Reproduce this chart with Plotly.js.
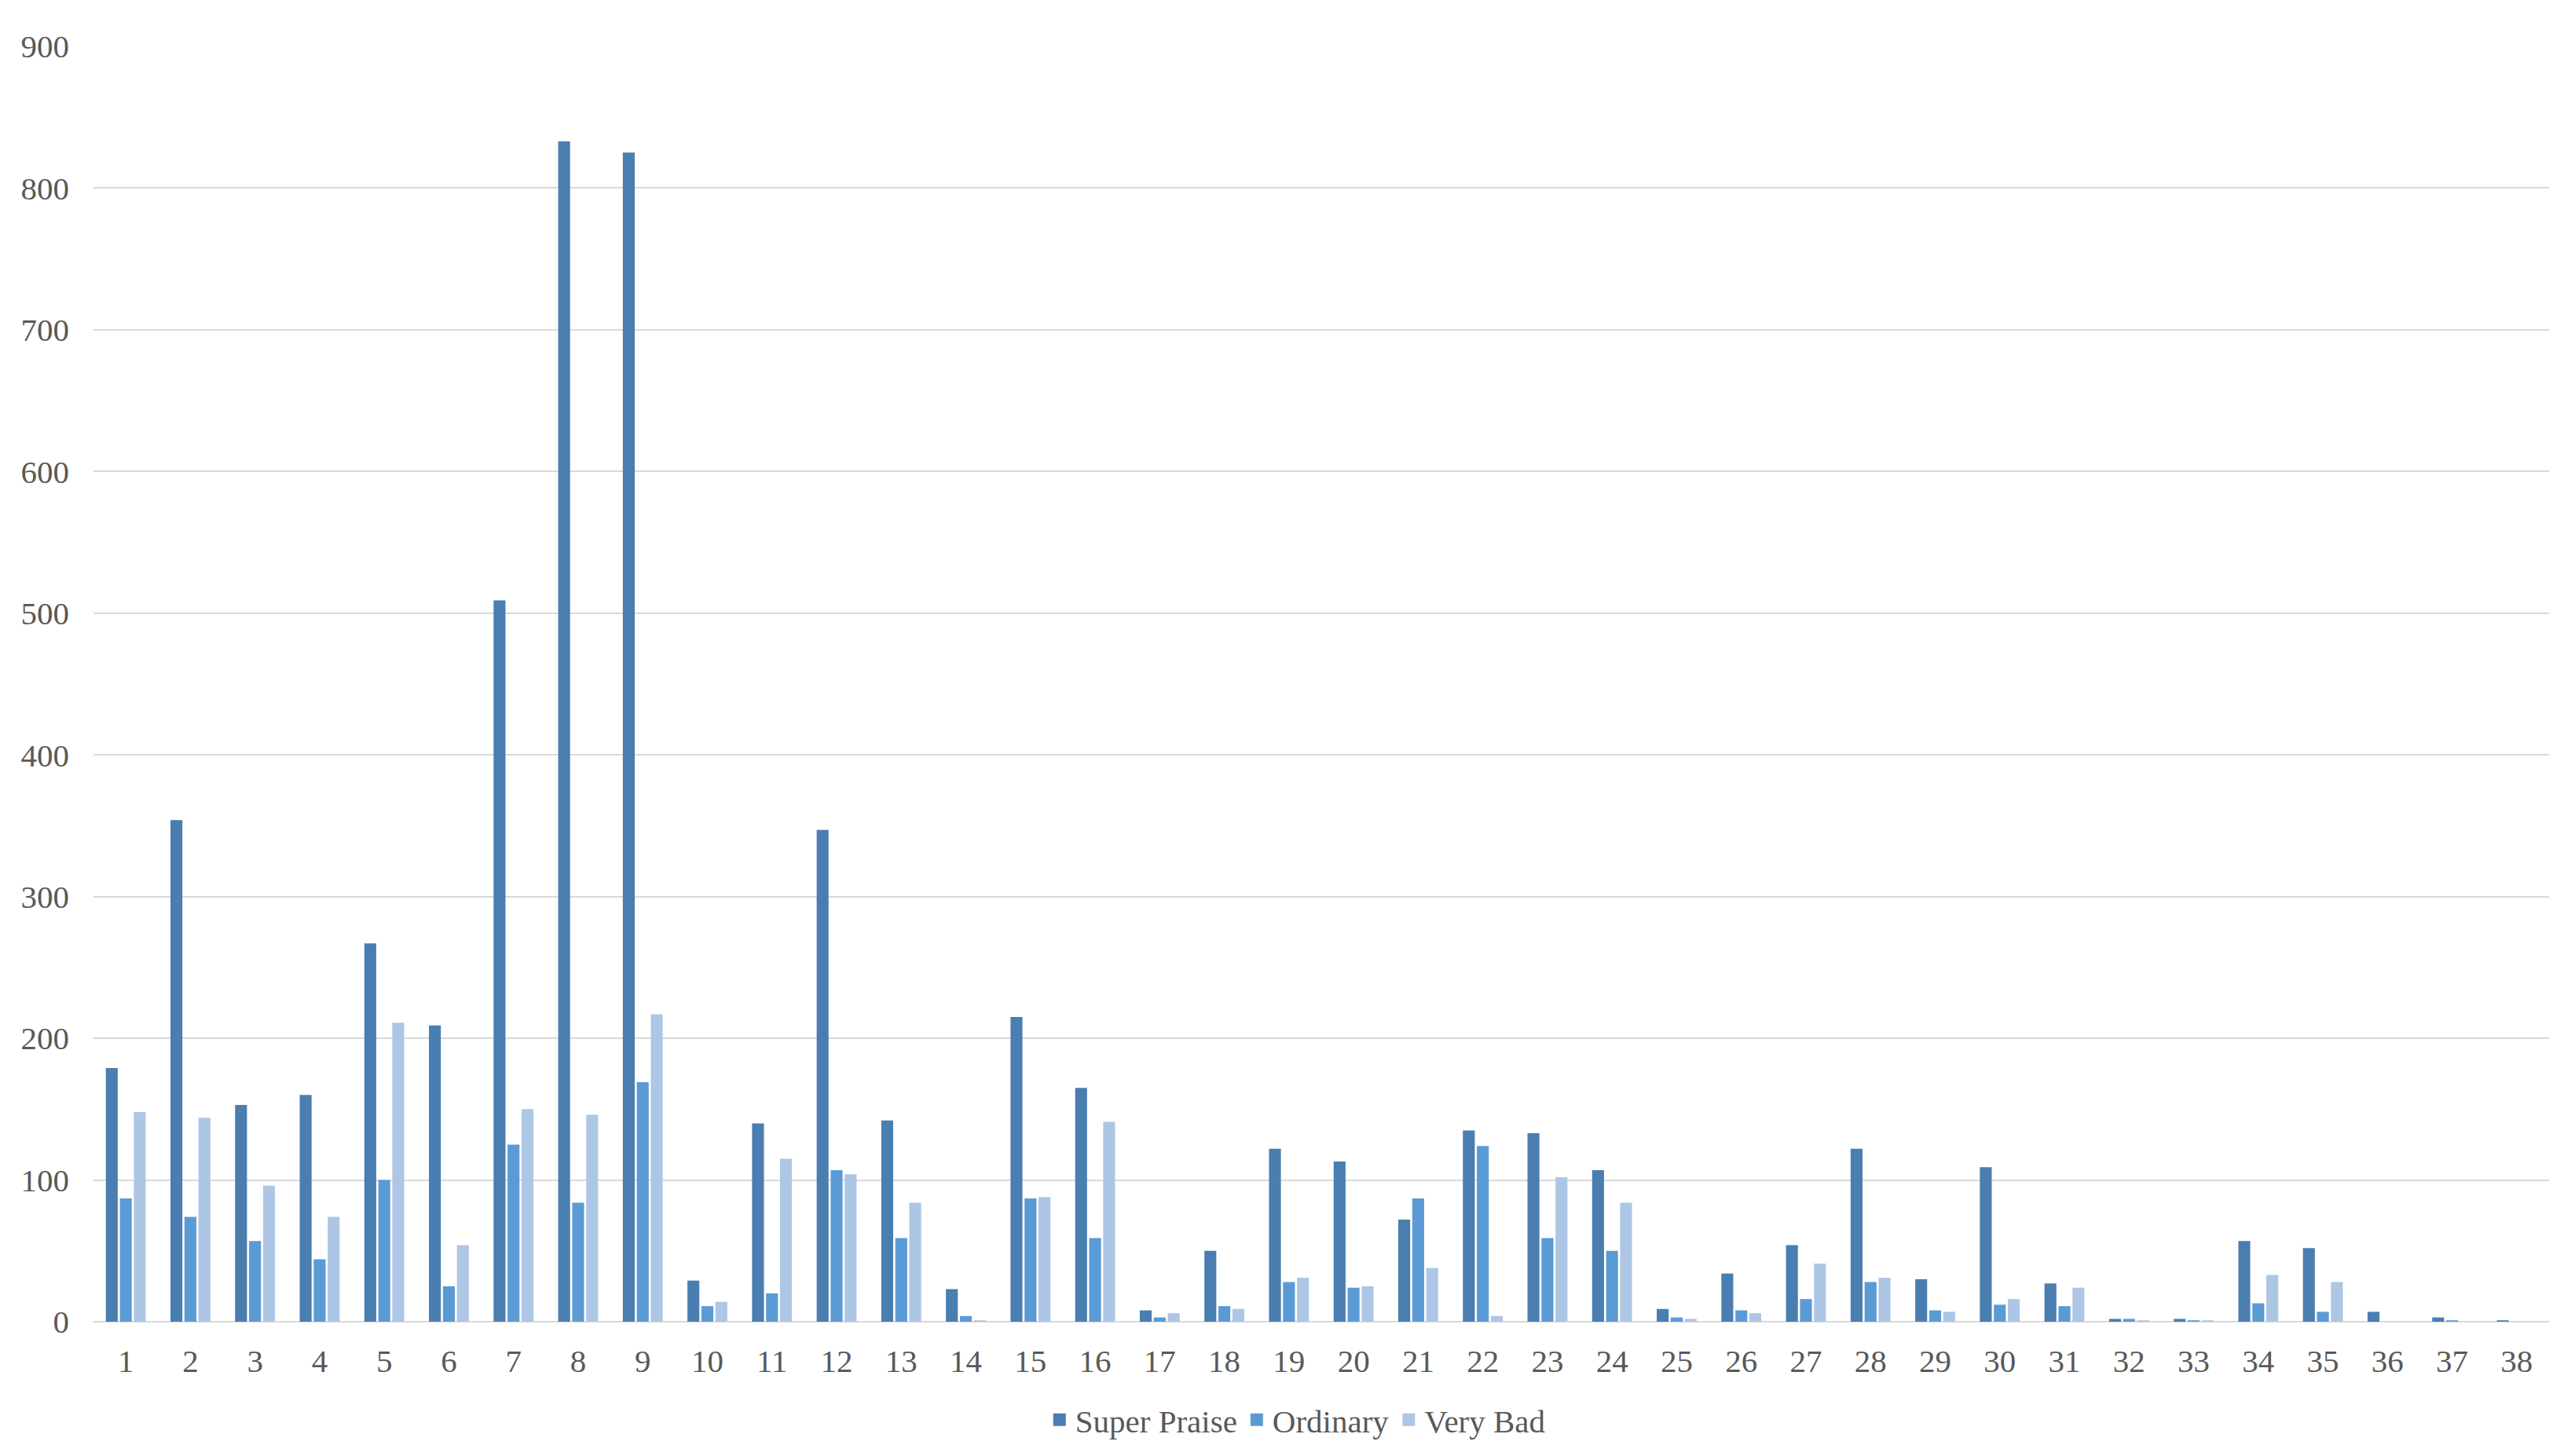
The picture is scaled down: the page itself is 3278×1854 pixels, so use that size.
<!DOCTYPE html>
<html>
<head>
<meta charset="utf-8">
<script src="https://cdn.plot.ly/plotly-3.0.1.min.js"></script>
<style>
  html, body { margin: 0; padding: 0; background: #fff; }
  #chart { width: 3278px; height: 1854px; }
</style>
</head>
<body>
<div id="chart"></div>
<script>
// categories 1..38
var categories = ["1","2","3","4","5","6","7","8","9","10","11","12","13","14","15","16","17","18","19",
  "20","21","22","23","24","25","26","27","28","29","30","31","32","33","34","35","36","37","38"];

var superPraise = [179, 354, 153, 160, 267, 209, 509, 833, 825, 29, 140, 347, 142, 23, 215, 165, 8, 50, 122,
  113, 72, 135, 133, 107, 9, 34, 54, 122, 30, 109, 27, 2, 2, 57, 52, 7, 3, 1];
var ordinary = [87, 74, 57, 44, 100, 25, 125, 84, 169, 11, 20, 107, 59, 4, 87, 59, 3, 11, 28,
  24, 87, 124, 59, 50, 3, 8, 16, 28, 8, 12, 11, 2, 1, 13, 7, 0, 1, 0];
var veryBad = [148, 144, 96, 74, 211, 54, 150, 146, 217, 14, 115, 104, 84, 1, 88, 141, 6, 9, 31,
  25, 38, 4, 102, 84, 2, 6, 41, 31, 7, 16, 24, 1, 1, 33, 28, 0, 0, 0];

var seriesNames = ["Super Praise", "Ordinary", "Very Bad"];
var seriesColors = ["#4a7eb0", "#5b9bd5", "#adc6e5"];

var fontFamily = "'Liberation Serif', 'Times New Roman', serif";

var bars = [superPraise, ordinary, veryBad].map(function (vals, i) {
  return {
    x: categories,
    y: vals,
    type: "bar",
    name: seriesNames[i],
    legendgroup: seriesNames[i],
    showlegend: false,
    marker: { color: seriesColors[i] }
  };
});

// legend-only entries so the legend squares can be a bit bigger
var keys = seriesNames.map(function (name, i) {
  return {
    x: [null],
    y: [null],
    type: "scatter",
    mode: "markers",
    name: name,
    legendgroup: name,
    marker: { symbol: "square", size: 16, color: seriesColors[i] }
  };
});

var layout = {
  width: 3278,
  height: 1854,
  margin: { l: 119, r: 33, t: 59, b: 167 },
  paper_bgcolor: "#ffffff",
  plot_bgcolor: "#ffffff",
  font: { family: fontFamily, size: 41, color: "#595959" },
  barmode: "group",
  bargap: 0.35,
  bargroupgap: 0.15,
  showlegend: true,
  legend: {
    orientation: "h",
    x: 0.49,
    xanchor: "center",
    y: -0.077,
    yanchor: "middle",
    font: { family: fontFamily, size: 41, color: "#595959" },
    traceorder: "normal"
  },
  xaxis: {
    type: "category",
    showgrid: false,
    showline: false,
    ticks: "",
    ticklabelstandoff: 22,
    tickfont: { family: fontFamily, size: 41, color: "#595959" }
  },
  yaxis: {
    range: [0, 900],
    dtick: 100,
    showgrid: true,
    gridcolor: "#d9d9d9",
    gridwidth: 2,
    zeroline: true,
    zerolinecolor: "#d9d9d9",
    zerolinewidth: 2,
    showline: false,
    ticks: "",
    ticklabelstandoff: 30,
    tickfont: { family: fontFamily, size: 41, color: "#595959" }
  }
};

Plotly.newPlot("chart", bars.concat(keys), layout, { displayModeBar: false, staticPlot: true });
</script>
</body>
</html>
